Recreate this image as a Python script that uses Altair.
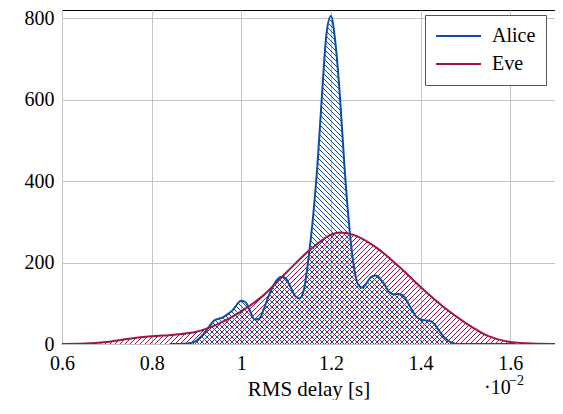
import altair as alt
import numpy as np
import pandas as pd

# ---- data (x in units of 1e-2 s) ----
alice_x = [0.84, 0.86, 0.88, 0.90, 0.92, 0.94, 0.96, 0.98, 1.00, 1.01, 1.02, 1.03,
           1.04, 1.05, 1.06, 1.07, 1.08, 1.09, 1.10, 1.11, 1.12, 1.13, 1.14, 1.15,
           1.16, 1.17, 1.18, 1.19, 1.20, 1.21, 1.22, 1.23, 1.24, 1.25, 1.26, 1.27,
           1.28, 1.29, 1.30, 1.31, 1.32, 1.33, 1.34, 1.35, 1.36, 1.37, 1.38, 1.39,
           1.40, 1.41, 1.42, 1.43, 1.44, 1.45, 1.46, 1.47, 1.48, 1.50, 1.61]
alice_y = [0, 0, 1, 8, 30, 58, 66, 82, 106, 102, 80, 60,
           62, 85, 115, 140, 158, 165, 160, 140, 118, 112, 135, 210,
           310, 440, 610, 760, 805, 740, 610, 440, 300, 200, 148, 138,
           150, 165, 168, 160, 145, 128, 122, 123, 120, 105, 85, 68,
           60, 58, 57, 50, 35, 20, 10, 3, 0, 0, 0]

eve_x = [0.60, 0.65, 0.70, 0.75, 0.80, 0.85, 0.90, 0.95, 1.00, 1.05, 1.10, 1.15,
         1.20, 1.22, 1.25, 1.30, 1.35, 1.40, 1.45, 1.50, 1.55, 1.60, 1.65, 1.70]
eve_y = [0, 1, 5, 13, 19, 23, 30, 50, 80, 120, 175, 228,
         268, 274, 268, 238, 192, 140, 92, 52, 20, 5, 1, 0]

series_names = ["Alice", "Eve"]
series_colors = ["#0b4ea2", "#a0124b"]

x_ticks = [0.6, 0.8, 1.0, 1.2, 1.4, 1.6]
y_ticks = [0, 200, 400, 600, 800]

XMIN, XMAX, YMAX = 0.6, 1.7, 820
W, H = 493, 334
FONT = "Liberation Serif"

sx = W / (XMAX - XMIN)
sy = H / YMAX


def monotone(xs, ys, xq):
    """Evaluate the same monotone cubic that Vega draws (d3 curveMonotoneX)."""
    xs = np.asarray(xs, float)
    ys = np.asarray(ys, float)
    h = np.diff(xs)
    s = np.diff(ys) / h
    n = len(xs)
    m = np.zeros(n)
    for i in range(1, n - 1):
        h0, h1, s0, s1 = h[i - 1], h[i], s[i - 1], s[i]
        p = (s0 * h1 + s1 * h0) / (h0 + h1)
        m[i] = (np.sign(s0) + np.sign(s1)) * min(abs(s0), abs(s1), 0.5 * abs(p))
    m[0] = (3 * s[0] - m[1]) / 2
    m[-1] = (3 * s[-1] - m[-2]) / 2
    out = np.full(len(xq), np.nan)
    idx = np.searchsorted(xs, xq, side="right") - 1
    ok = (xq >= xs[0]) & (xq <= xs[-1])
    idx = np.clip(idx, 0, n - 2)
    t = (xq - xs[idx]) / h[idx]
    t2, t3 = t * t, t * t * t
    val = ((2 * t3 - 3 * t2 + 1) * ys[idx] + (t3 - 2 * t2 + t) * h[idx] * m[idx]
           + (-2 * t3 + 3 * t2) * ys[idx + 1] + (t3 - t2) * h[idx] * m[idx + 1])
    out[ok] = val[ok]
    return out


def hatch(xs, ys, direction, name, spacing=5.0):
    px = np.arange(0, W + 0.001, 0.25)
    f = monotone(xs, ys, XMIN + px / sx) * sy
    f = np.where(np.isnan(f), -1, f)
    rows = []
    for c in np.arange(-W - H, W + H, spacing):
        yl = direction * px - c
        mask = (yl >= 0) & (yl <= f)
        if not mask.any():
            continue
        d = np.diff(np.concatenate([[0], mask.astype(int), [0]]))
        starts = np.where(d == 1)[0]
        ends = np.where(d == -1)[0] - 1
        for a, b in zip(starts, ends):
            if b <= a:
                continue
            rows.append({"series": name,
                         "x": XMIN + px[a] / sx, "y": yl[a] / sy,
                         "x2": XMIN + px[b] / sx, "y2": yl[b] / sy})
    return rows


hatch_df = pd.DataFrame(hatch(alice_x, alice_y, -1, "Alice") +
                        hatch(eve_x, eve_y, 1, "Eve"))

line_df = pd.concat([
    pd.DataFrame({"series": "Alice", "x": alice_x, "y": alice_y}),
    pd.DataFrame({"series": "Eve", "x": eve_x, "y": eve_y}),
])

xscale = alt.Scale(domain=[XMIN, XMAX], nice=False, zero=False)
yscale = alt.Scale(domain=[0, YMAX], nice=False, zero=True)
cscale = alt.Scale(domain=series_names, range=series_colors)

xaxis = alt.Axis(values=x_ticks, format=".1~f", title="RMS delay [s]",
                 ticks=False, tickSize=0, domain=False, grid=True,
                 labelFlush=False, labelPadding=9,
                 titleY=51, titleBaseline="alphabetic")
yaxis = alt.Axis(values=y_ticks, title=None, ticks=False, tickSize=0,
                 domain=False, grid=True, labelPadding=8)

hatch_layer = alt.Chart(hatch_df).mark_rule(strokeWidth=1, clip=True).encode(
    x=alt.X("x:Q", scale=xscale, axis=xaxis),
    x2="x2:Q",
    y=alt.Y("y:Q", scale=yscale, axis=yaxis),
    y2="y2:Q",
    stroke=alt.Stroke("series:N", scale=cscale, legend=None),
)

line_layer = alt.Chart(line_df).mark_line(
    interpolate="monotone", strokeWidth=2, clip=True
).encode(
    x=alt.X("x:Q", scale=xscale),
    y=alt.Y("y:Q", scale=yscale),
    color=alt.Color("series:N", scale=cscale, sort=series_names,
                    legend=alt.Legend(title=None, orient="none",
                                      legendX=363, legendY=5)),
)

exp_base = alt.Chart(pd.DataFrame({"t": ["·10"]})).mark_text(
    font=FONT, fontSize=20, align="left", baseline="alphabetic", color="black"
).encode(x=alt.value(422), y=alt.value(384), text="t:N")
exp_sup = alt.Chart(pd.DataFrame({"t": ["−2"]})).mark_text(
    font=FONT, fontSize=14, align="left", baseline="alphabetic", color="black"
).encode(x=alt.value(447), y=alt.value(375), text="t:N")

chart = alt.layer(hatch_layer, line_layer, exp_base, exp_sup).resolve_scale(
    color="independent", stroke="independent"
).properties(
    width=W, height=H,
    autosize=alt.AutoSizeParams(type="none"),
    padding={"left": 54, "top": 2, "right": 0, "bottom": 56},
).configure_view(
    stroke="black", strokeWidth=1
).configure_axis(
    labelFont=FONT, labelFontSize=20, labelColor="black",
    titleFont=FONT, titleFontSize=21, titleFontWeight="normal", titleColor="black",
    gridColor="#c4c4c4", gridWidth=1,
).configure_legend(
    fillColor="white", strokeColor="#555555", padding=10, cornerRadius=0,
    symbolType="stroke", symbolSize=2025, symbolStrokeWidth=2,
    clipHeight=22, rowPadding=6, labelOffset=10,
    labelFont=FONT, labelFontSize=20, labelColor="black",
)

chart.save("out.html", embed_options={"renderer": "svg", "actions": False})
